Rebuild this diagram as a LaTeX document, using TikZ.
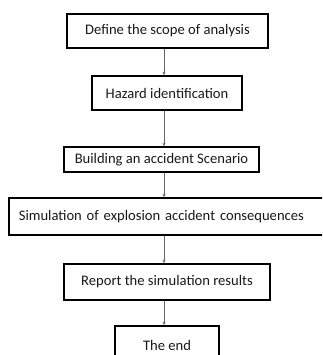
\documentclass[tikz,border=0pt]{standalone}
\usepackage{fontspec}
\setmainfont{Carlito}
\usetikzlibrary{arrows.meta}
\begin{document}
\begin{tikzpicture}[x=1pt,y=-1pt,
  box/.style={draw=black, line width=1.6pt, rectangle, inner sep=0pt, font=\fontsize{14.6}{16}\selectfont, text=black!90},
  arr/.style={draw=black!60, line width=0.8pt, -{Stealth[length=3.5pt,width=3pt]}}]
\useasboundingbox (0,0) rectangle (322,355);
\clip (0,0) rectangle (322,355);
\fill[white] (0,0) rectangle (322,355);
\coordinate (ax) at (164,0);
\node[box, minimum width=201pt, minimum height=34pt] (b1) at (167.5,31) {Define the scope of analysis};
\node[box, minimum width=150pt, minimum height=34pt] (b2) at (167,93) {Hazard identification};
\node[box, minimum width=195pt, minimum height=25pt] (b3) at (161.5,159.5) {Building an accident Scenario};
\node[box, anchor=west, minimum height=37pt, text width=312pt, inner xsep=10pt, align=left] (b4) at (8,216.5) {Simulation of explosion accident consequences};
\node[box, minimum width=206pt, minimum height=36pt] (b5) at (167,282) {Report the simulation results};
\node[box, minimum width=104pt, minimum height=50pt, text depth=0pt] (b6) at (167,351) {};
\node[font=\fontsize{14.6}{16}\selectfont, text=black!90] (t6) at (167,345) {The end};
\draw[arr] (b1.south -| ax) -- (b2.north -| ax);
\draw[arr] (b2.south -| ax) -- (b3.north -| ax);
\draw[arr] (b3.south -| ax) -- (b4.north -| ax);
\draw[arr] (b4.south -| ax) -- (b5.north -| ax);
\draw[arr] (b5.south -| ax) -- (b6.north -| ax);
\end{tikzpicture}
\end{document}
